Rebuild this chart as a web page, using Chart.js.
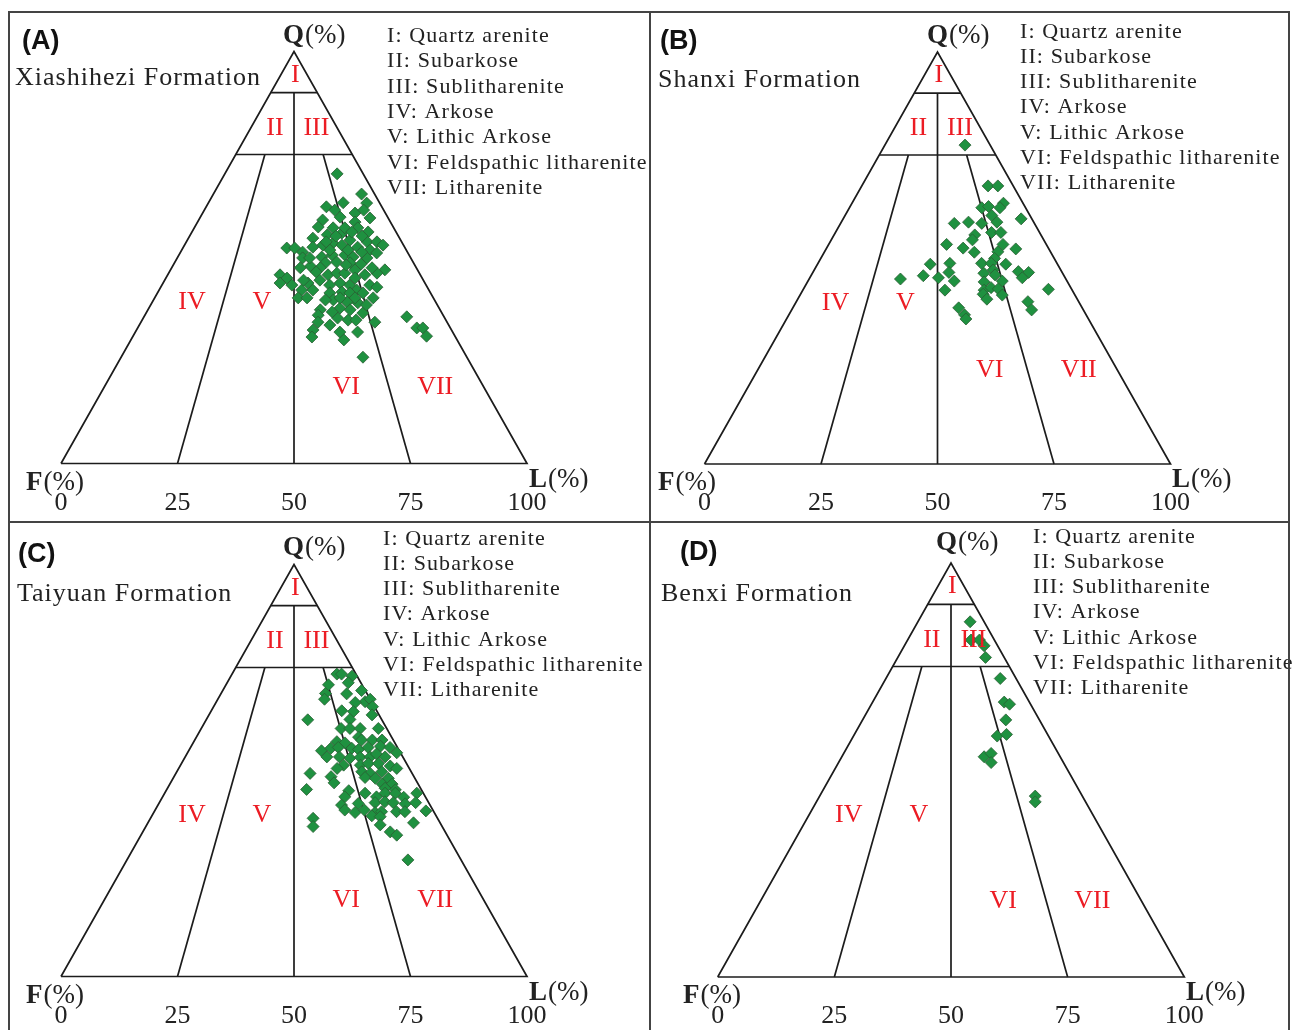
<!DOCTYPE html>
<html>
<head>
<meta charset="utf-8">
<script src="https://cdn.jsdelivr.net/npm/chart.js@4.4.0/dist/chart.umd.min.js"></script>
<style>
  body { margin: 0; background: #fff; }
  #fig { position: relative; width: 1296px; height: 1030px; overflow: hidden; background: #fff; }
  #fig canvas { position: absolute; }
  .rule { position: absolute; background: #444; z-index: 2; }
</style>
</head>
<body>
<div id="fig">
  <div class="rule" style="left:8px;top:11px;width:1282px;height:2px"></div>
  <div class="rule" style="left:8px;top:11px;width:2px;height:1030px"></div>
  <div class="rule" style="left:1288px;top:11px;width:2px;height:1030px"></div>
  <div class="rule" style="left:649px;top:11px;width:2px;height:1030px"></div>
  <div class="rule" style="left:8px;top:521px;width:1282px;height:2px"></div>
</div>
<script>
// QFL classes (Folk)
const classNames = ['I: Quartz arenite', 'II: Subarkose', 'III: Sublitharenite', 'IV: Arkose',
  'V: Lithic Arkose', 'VI: Feldspathic litharenite', 'VII: Litharenite'];
const fieldNames = ['I', 'II', 'III', 'IV', 'V', 'VI', 'VII'];
const axisTicks = [0, 25, 50, 75, 100];

// sample compositions, Q % and L % (F = 100 - Q - L)
const xiashiheziQ = [70.3, 65.4, 63.2, 63.3, 62.3, 61.5, 60.8, 59.1, 59.8, 58.6, 57.2, 57.2, 57.4, 56.2, 54.7, 55.5,
  55.9, 54.2, 53.8, 53.8, 52.3, 52.3, 51.3, 52.5, 53.0, 53.5, 53.0, 52.5, 51.8, 51.1, 49.9, 50.1, 50.6, 50.6, 50.1,
  49.9, 47.9, 48.7, 48.9, 48.7, 45.8, 45.0, 43.8, 42.1, 43.8, 42.1, 40.2, 40.2, 47.5, 45.8, 46.2, 46.2, 47.0, 47.0,
  46.2, 43.3, 42.8, 43.3, 43.8, 43.3, 42.1, 41.4, 41.6, 41.4, 41.4, 39.7, 39.2, 39.0, 40.2, 37.3, 37.7, 37.3, 36.5,
  36.0, 35.3, 34.8, 34.3, 34.3, 32.4, 30.7, 31.9, 31.9, 25.8, 35.6, 32.9, 32.9, 30.9, 57.2, 55.2, 51.8, 51.8, 51.3,
  46.5, 45.0, 45.8, 39.7, 40.2, 40.2, 36.8, 34.8, 30.0, 33.6, 48.4, 47.5, 49.9, 53.0, 43.3, 47.5, 53.8, 55.2, 56.2,
  59.6, 61.5, 44.5, 48.2, 44.5, 38.5];
const xiashiheziL = [24.1, 31.8, 34.0, 28.9, 25.8, 28.0, 32.7, 26.6, 30.0, 33.8, 35.1, 29.8, 26.5, 37.8, 26.7, 29.4,
  32.3, 34.9, 38.8, 40.9, 22.3, 24.0, 26.2, 27.8, 29.7, 31.6, 33.8, 37.4, 40.4, 42.2, 26.9, 30.9, 32.9, 35.6, 37.6,
  40.7, 29.6, 32.4, 34.7, 37.7, 24.1, 26.0, 25.1, 30.6, 31.1, 33.0, 30.8, 32.7, 31.9, 34.4, 36.1, 37.8, 39.6, 46.0,
  44.7, 44.6, 46.4, 36.0, 38.0, 40.3, 42.4, 37.0, 39.5, 41.3, 44.1, 38.6, 41.8, 44.2, 46.9, 37.0, 41.0, 43.4, 46.5,
  37.2, 41.7, 44.2, 50.2, 38.0, 37.9, 38.5, 43.9, 47.7, 51.9, 56.4, 59.9, 61.2, 63.0, 32.3, 37.0, 31.8, 35.7, 38.9,
  31.5, 40.6, 42.3, 36.9, 39.8, 43.0, 39.8, 45.9, 45.7, 40.9, 40.2, 43.0, 28.4, 42.6, 27.9, 27.6, 30.0, 31.4, 34.3,
  36.5, 34.2, 33.3, 37.1, 29.8, 46.3];

const shanxiQ = [77.4, 67.5, 67.5, 63.3, 62.2, 62.2, 62.5, 60.3, 59.5, 58.4, 58.7, 58.4, 58.7, 56.2, 56.2, 55.6, 54.4,
  53.3, 52.4, 51.4, 53.3, 51.5, 52.2, 49.9, 48.5, 48.7, 48.7, 48.7, 48.5, 44.9, 45.7, 45.2, 46.5, 44.4, 46.3, 47.1,
  45.9, 46.7, 46.5, 45.2, 44.2, 44.4, 42.2, 42.2, 42.8, 42.5, 42.4, 41.2, 41.0, 40.0, 39.4, 37.4, 37.9, 36.2, 35.2];
const shanxiL = [17.2, 27.1, 29.2, 32.5, 32.3, 28.4, 29.7, 31.5, 38.2, 24.4, 27.3, 30.3, 33.4, 33.5, 35.5, 30.2, 30.3,
  25.3, 29.3, 32.2, 37.4, 37.2, 40.7, 37.3, 24.2, 28.3, 35.1, 37.2, 40.4, 19.6, 24.1, 27.6, 29.2, 31.4, 36.8, 38.4,
  39.4, 44.0, 46.3, 45.6, 37.9, 41.7, 30.5, 38.9, 40.1, 41.8, 52.6, 39.2, 43.4, 40.6, 49.7, 51.5, 35.6, 37.7, 38.5];

const taiyuanQ = [73.4, 73.4, 72.9, 71.3, 70.8, 68.7, 67.3, 68.6, 69.4, 66.7, 66.5, 67.3, 64.5, 64.3, 65.5, 62.4, 63.5,
  62.3, 60.2, 60.2, 60.2, 60.2, 58.1, 57.0, 56.7, 57.4, 57.4, 57.4, 54.8, 53.3, 55.4, 55.6, 55.4, 55.1, 55.6, 55.9,
  55.6, 54.3, 53.3, 53.0, 53.2, 53.3, 54.0, 53.3, 51.3, 50.5, 51.3, 51.7, 51.7, 51.1, 50.5, 49.3, 48.5, 47.0, 49.7,
  49.3, 49.7, 48.3, 48.1, 48.1, 46.7, 46.7, 45.7, 45.3, 45.4, 45.1, 43.6, 44.5, 43.6, 44.5, 44.5, 43.5, 44.5, 41.6,
  42.0, 42.2, 42.4, 42.2, 41.9, 42.2, 40.4, 39.8, 40.4, 39.8, 40.0, 40.0, 40.0, 40.2, 39.0, 38.8, 38.4, 36.4, 36.8,
  37.3, 35.1, 34.3, 28.3];
const taiyuanL = [22.5, 23.5, 26.0, 26.0, 22.0, 22.4, 22.9, 27.0, 29.8, 31.9, 29.9, 32.7, 28.0, 30.6, 34.1, 30.8, 35.0,
  21.8, 30.0, 31.9, 34.1, 38.0, 34.8, 30.7, 32.6, 35.8, 38.1, 40.2, 28.5, 30.4, 30.2, 31.7, 34.7, 36.3, 38.1, 40.6,
  42.8, 44.9, 33.1, 35.5, 37.6, 39.7, 40.7, 42.9, 35.0, 34.0, 38.6, 40.1, 42.3, 45.1, 46.8, 28.8, 33.7, 35.1, 39.7,
  41.7, 44.0, 41.1, 43.4, 46.2, 45.6, 47.7, 46.7, 49.1, 30.0, 39.2, 39.1, 43.0, 45.9, 47.3, 49.5, 51.8, 54.1, 39.4,
  42.8, 46.3, 48.3, 50.2, 52.9, 55.0, 40.7, 43.2, 44.9, 47.5, 48.8, 52.0, 53.8, 58.2, 47.2, 49.1, 34.9, 35.9, 50.1,
  57.0, 53.1, 54.9, 60.3];

const benxiQ = [85.8, 81.4, 81.4, 80.0, 77.2, 72.1, 66.4, 65.9, 62.1, 58.2, 58.6, 53.2, 54.0, 51.8, 43.7, 42.3];
const benxiL = [11.2, 13.6, 15.4, 17.1, 18.8, 24.5, 28.2, 29.6, 30.7, 30.8, 32.6, 30.5, 31.6, 32.7, 46.2, 46.9];

// classification boundaries as [Q, L] end points
const boundaries = [
  [[0, 0], [0, 100], [100, 0], [0, 0]],
  [[90, 0], [90, 10]],
  [[75, 0], [75, 25]],
  [[0, 50], [90, 5]],
  [[0, 25], [75, 6.25]],
  [[0, 75], [75, 18.75]],
];

// ternary -> plot position: F at x=0, L at x=100, Q at the top
function toXY(q, l) {
  return { x: l + q / 2, y: q };
}

const panels = [
  { letter: '(A)', name: 'Xiashihezi Formation', q: xiashiheziQ, l: xiashiheziL,
    box: [10, 13, 639, 508], tri: { fx: 61, by: 463.5, ay: 51.5, w: 466 },
    letterAt: [22, 42], nameAt: [15, 78], legendAt: [387, 36, 25.4],
    qAt: [283, 36], fAt: [26, 483], lAt: [529, 480], lowRow: 18.6 },
  { letter: '(B)', name: 'Shanxi Formation', q: shanxiQ, l: shanxiL,
    box: [651, 13, 638, 508], tri: { fx: 704.5, by: 464, ay: 52, w: 466 },
    letterAt: [660, 42], nameAt: [658, 80], legendAt: [1020, 32, 25.2],
    qAt: [927, 36], fAt: [658, 483], lAt: [1172, 480], lowRow: 22.8 },
  { letter: '(C)', name: 'Taiyuan Formation', q: taiyuanQ, l: taiyuanL,
    box: [10, 523, 639, 507], tri: { fx: 61, by: 976.5, ay: 564.5, w: 466 },
    letterAt: [18, 555], nameAt: [17, 594], legendAt: [383, 539, 25.2],
    qAt: [283, 548], fAt: [26, 996], lAt: [529, 993], lowRow: 18.6 },
  { letter: '(D)', name: 'Benxi Formation', q: benxiQ, l: benxiL,
    box: [651, 523, 645, 507], tri: { fx: 717.7, by: 977, ay: 563, w: 466.6 },
    letterAt: [680, 553], nameAt: [661, 594], legendAt: [1033, 537, 25.2],
    qAt: [936, 543], fAt: [683, 996], lAt: [1186, 993], lowRow: 18.4 },
];

const SERIF = '"Liberation Serif", "Times New Roman", serif';
const TEXT = '#222';

function drawMixed(ctx, x, y, bold, rest, size) {
  ctx.font = `bold ${size}px ${SERIF}`;
  ctx.fillText(bold, x, y);
  const w = ctx.measureText(bold).width;
  ctx.font = `${size}px ${SERIF}`;
  ctx.fillText(rest, x + w + 1, y);
}

const qflText = {
  id: 'qflText',
  afterDatasetsDraw(chart, args, opts) {
    const p = opts.panel;
    const ctx = chart.ctx;
    const xs = chart.scales.x;
    const ys = chart.scales.y;

    ctx.save();
    // field names inside the triangle
    const fieldPos = [[50.3, 94.3], [45.9, 81.4], [54.8, 81.4], [28.1, 39.1], [43.1, 39.1], [61.2, p.lowRow], [80.3, p.lowRow]];
    ctx.fillStyle = '#ec1c24';
    ctx.font = `26px ${SERIF}`;
    ctx.textAlign = 'center';
    ctx.textBaseline = 'middle';
    fieldNames.forEach((f, i) => {
      ctx.fillText(f, xs.getPixelForValue(fieldPos[i][0]), ys.getPixelForValue(fieldPos[i][1]));
    });

    ctx.translate(-p.box[0], -p.box[1]);
    ctx.textAlign = 'left';
    ctx.fillStyle = '#111';
    ctx.font = 'bold 27px "Liberation Sans", Arial, sans-serif';
    ctx.fillText(p.letter, p.letterAt[0], p.letterAt[1]);

    ctx.fillStyle = TEXT;
    if ('letterSpacing' in ctx) ctx.letterSpacing = '1px';
    ctx.font = `26px ${SERIF}`;
    ctx.fillText(p.name, p.nameAt[0], p.nameAt[1]);

    if ('letterSpacing' in ctx) ctx.letterSpacing = '1.1px';
    ctx.font = `22px ${SERIF}`;
    classNames.forEach((c, i) => {
      ctx.fillText(c, p.legendAt[0], p.legendAt[1] + i * p.legendAt[2]);
    });
    if ('letterSpacing' in ctx) ctx.letterSpacing = '0px';

    drawMixed(ctx, p.qAt[0], p.qAt[1], 'Q', '(%)', 27);
    drawMixed(ctx, p.fAt[0], p.fAt[1], 'F', '(%)', 27);
    drawMixed(ctx, p.lAt[0], p.lAt[1], 'L', '(%)', 27);
    ctx.restore();
  }
};

function renderPanel(p) {
  const canvas = document.createElement('canvas');
  const [left, top, width, height] = p.box;
  canvas.width = width;
  canvas.height = height;
  canvas.style.left = left + 'px';
  canvas.style.top = top + 'px';
  document.getElementById('fig').appendChild(canvas);

  const t = p.tri;
  const axisHeight = top + height - t.by;

  const samples = p.q.map((q, i) => toXY(q, p.l[i]));
  const lineSets = boundaries.map(seg => ({
    data: seg.map(([q, l]) => toXY(q, l)),
    showLine: true,
    borderColor: '#1c1c1c',
    borderWidth: 1.7,
    borderJoinStyle: 'miter',
    pointRadius: 0,
    tension: 0,
    clip: false,
  }));

  new Chart(canvas, {
    type: 'scatter',
    data: {
      datasets: [
        {
          data: samples,
          pointStyle: 'rectRot',
          pointRadius: 6,
          backgroundColor: '#1f9140',
          borderColor: '#2b5e34',
          borderWidth: 0.8,
          clip: false,
        },
        ...lineSets,
      ],
    },
    options: {
      responsive: false,
      animation: false,
      events: [],
      layout: {
        padding: { left: t.fx - left, right: left + width - (t.fx + t.w), top: t.ay - top, bottom: 0 },
      },
      plugins: {
        legend: { display: false },
        tooltip: { enabled: false },
        qflText: { panel: p },
      },
      scales: {
        x: {
          type: 'linear',
          min: 0,
          max: 100,
          grid: { display: false, drawTicks: false },
          border: { display: false },
          afterBuildTicks: scale => { scale.ticks = axisTicks.map(v => ({ value: v })); },
          afterFit: scale => { scale.height = axisHeight; },
          ticks: {
            padding: 24,
            maxRotation: 0,
            autoSkip: false,
            color: TEXT,
            font: { family: SERIF, size: 26 },
          },
        },
        y: { min: 0, max: 100, display: false },
      },
    },
    plugins: [qflText],
  });
}

panels.forEach(renderPanel);
</script>
</body>
</html>
